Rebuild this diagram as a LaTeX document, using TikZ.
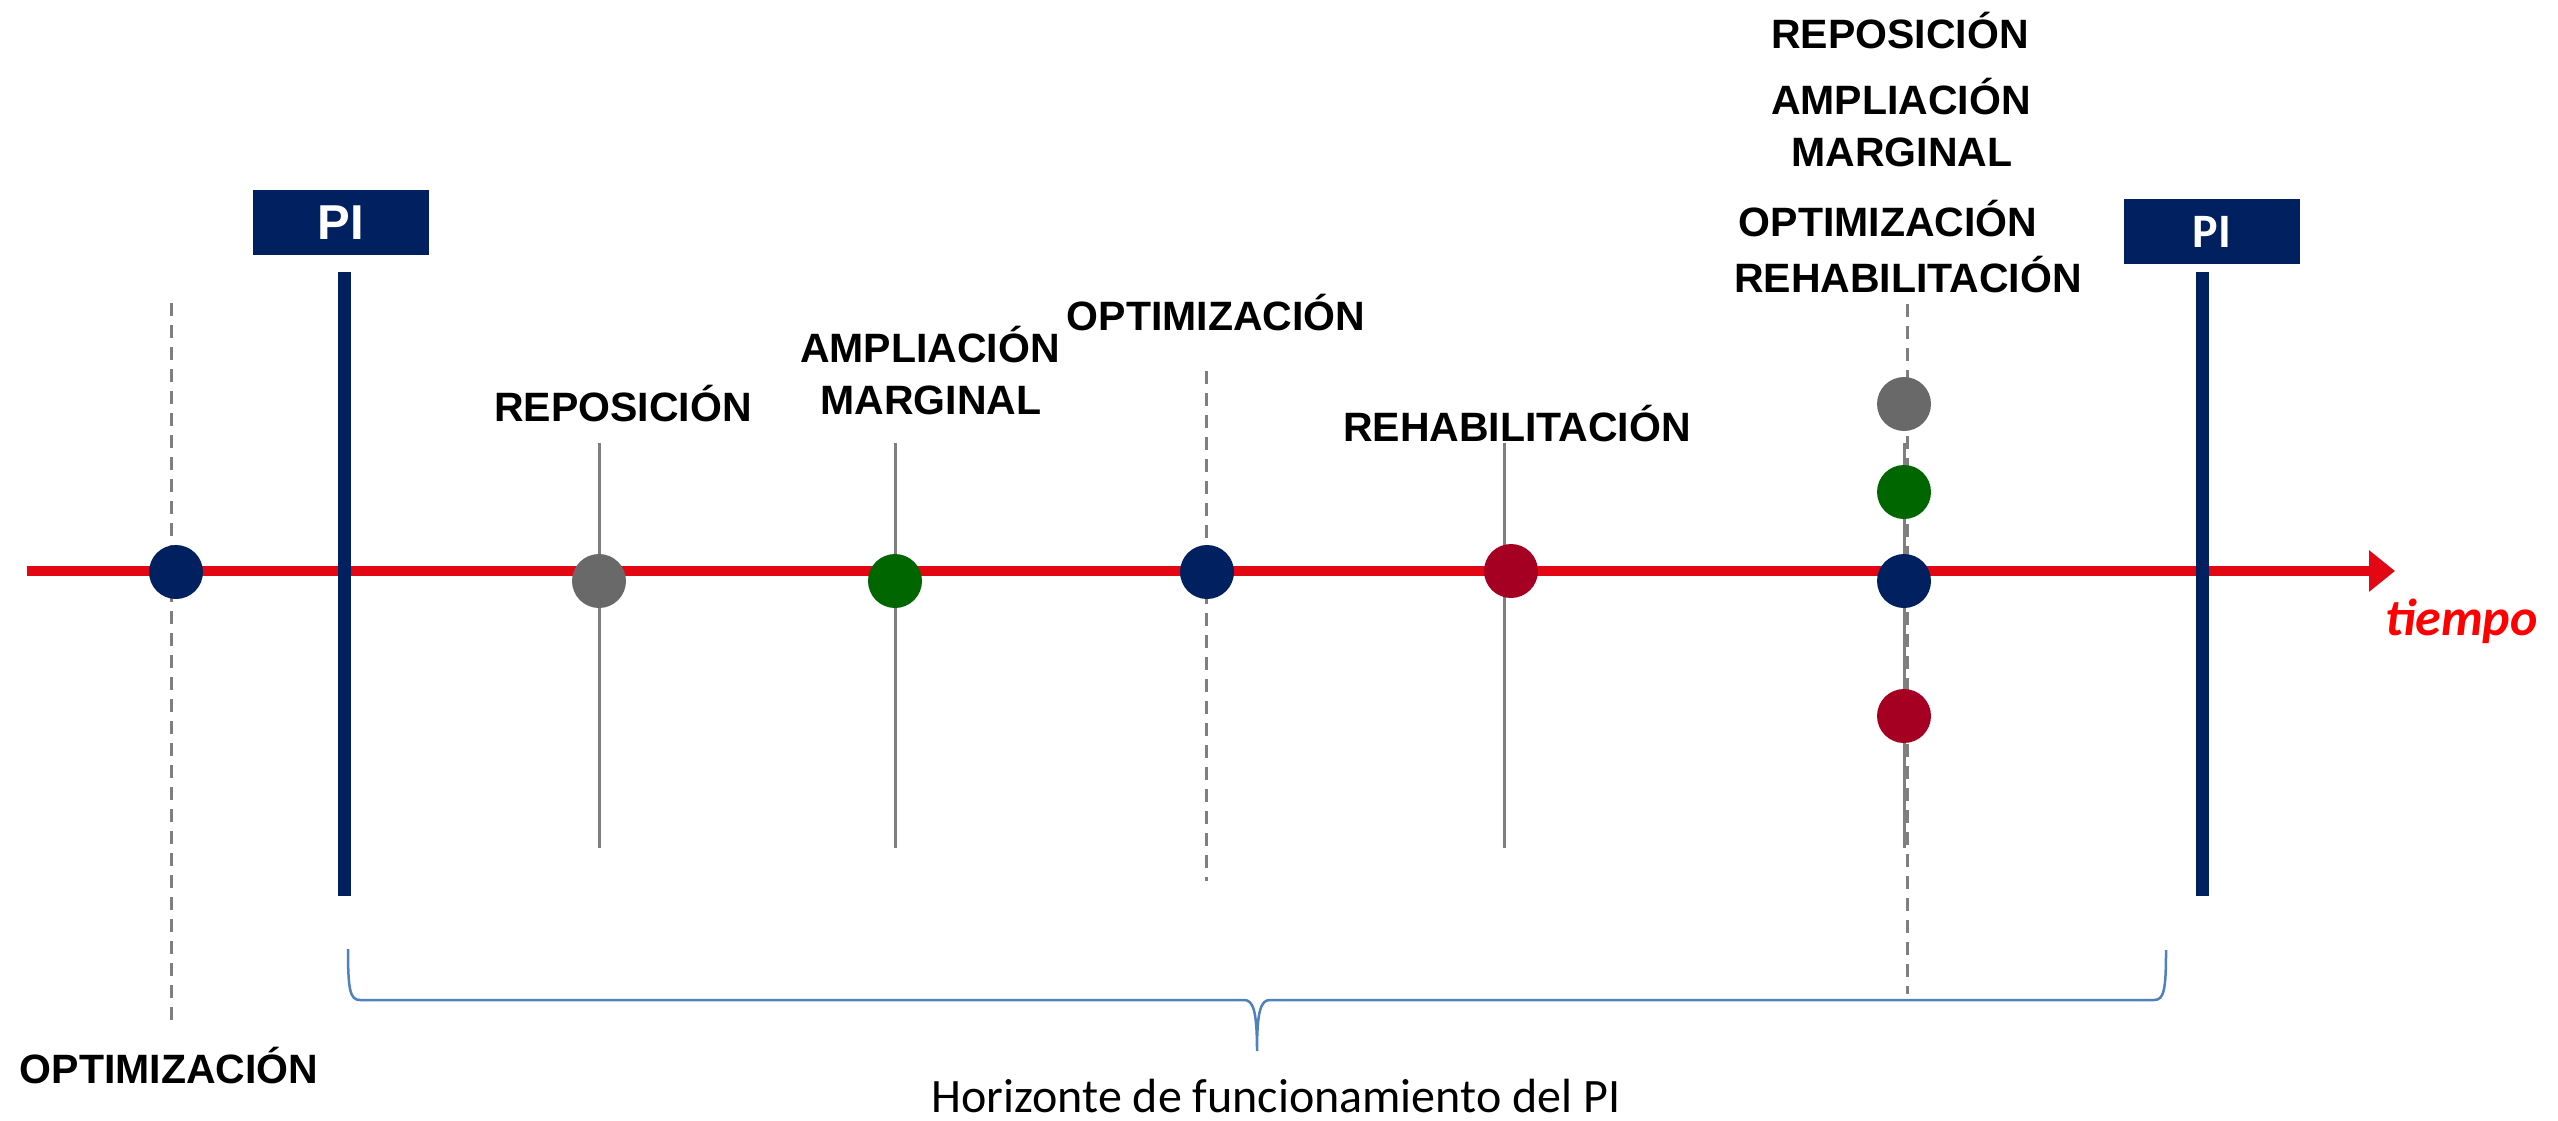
\documentclass[tikz,border=0pt]{standalone}
\usepackage{fontspec}
\setmainfont{Liberation Sans}
\newfontfamily\carl{Carlito}
\usetikzlibrary{arrows.meta}
\definecolor{navy}{HTML}{002060}
\definecolor{axisred}{HTML}{E30613}
\definecolor{dotred}{HTML}{A50021}
\definecolor{dotgreen}{HTML}{006600}
\definecolor{dotgrey}{HTML}{696969}
\definecolor{linegrey}{HTML}{7F7F7F}
\definecolor{braceblue}{HTML}{4F81BD}
\definecolor{timered}{HTML}{FF0000}
\begin{document}
\begin{tikzpicture}[x=1pt,y=-1pt,
  lbl/.style={inner sep=0pt, anchor=base, font=\fontsize{41}{49}\selectfont\bfseries},
  dot/.style={circle, inner sep=0pt, minimum size=54pt, draw=none},
  gline/.style={draw=linegrey, line width=3pt},
  dline/.style={draw=linegrey, line width=3pt, dash pattern=on 13pt off 9pt},
  pibar/.style={draw=navy, line width=13pt},
  pibox/.style={fill=navy, text=white, minimum width=176pt, minimum height=65pt, inner sep=0pt},
  axisline/.style={draw=axisred, line width=10pt, -{Triangle[length=26pt,width=40pt]}},
  brace/.style={draw=braceblue, line width=2.5pt}
]
\useasboundingbox (0,0) rectangle (2558,1121);

% axis
\coordinate (axs) at (27,571);
\coordinate (axe) at (2395,571);
\draw[axisline] (axs) -- (axe);

% vertical lines
\coordinate (v0t) at (171,303); \coordinate (v0b) at (171,1024);
\draw[dline] (v0t) -- (v0b);
\coordinate (v1t) at (599,443); \coordinate (v1b) at (599,848);
\draw[gline] (v1t) -- (v1b);
\coordinate (v2t) at (895,443); \coordinate (v2b) at (895,848);
\draw[gline] (v2t) -- (v2b);
\coordinate (v3t) at (1206,371); \coordinate (v3b) at (1206,881);
\draw[dline] (v3t) -- (v3b);
\coordinate (v4t) at (1504,443); \coordinate (v4b) at (1504,848);
\draw[gline] (v4t) -- (v4b);
\coordinate (v5t) at (1904,443); \coordinate (v5b) at (1904,848);
\draw[gline] (v5t) -- (v5b);
\coordinate (v6t) at (1907,304); \coordinate (v6b) at (1907,994);
\draw[dline] (v6t) -- (v6b);

% PI bars
\coordinate (p1t) at (344,272); \coordinate (p1b) at (344,896);
\draw[pibar] (p1t) -- (p1b);
\coordinate (p2t) at (2202,272); \coordinate (p2b) at (2202,896);
\draw[pibar] (p2t) -- (p2b);

% PI boxes
\node[pibox, font=\fontsize{49}{55}\selectfont\bfseries] (pi1) at (341,222.5) {PI};
\node[pibox, font=\carl\fontsize{48}{54}\selectfont\bfseries] (pi2) at (2212,231.5) {PI};

% dots
\node[dot, fill=navy] (d0) at (176,572) {};
\node[dot, fill=dotgrey] (d1) at (599,581) {};
\node[dot, fill=dotgreen] (d2) at (895,581) {};
\node[dot, fill=navy] (d3) at (1207,572) {};
\node[dot, fill=dotred] (d4) at (1511,571) {};
\node[dot, fill=dotgrey] (d5) at (1904,404) {};
\node[dot, fill=dotgreen] (d6) at (1904,492) {};
\node[dot, fill=navy] (d7) at (1904,581) {};
\node[dot, fill=dotred] (d8) at (1904,716) {};

% labels
\node[lbl] (rep1) at (623,421) {REPOSICIÓN};
\node[lbl] (amp1) at (930,362) {AMPLIACIÓN};
\node[lbl] (mar1) at (931,414) {MARGINAL};
\node[lbl] (opt1) at (1216,330) {OPTIMIZACIÓN};
\node[lbl] (reh1) at (1517,441) {REHABILITACIÓN};
\node[lbl] (rep2) at (1900,49) {REPOSICIÓN};
\node[lbl] (amp2) at (1901,115) {AMPLIACIÓN};
\node[lbl] (mar2) at (1902,166) {MARGINAL};
\node[lbl] (opt2) at (1888,236) {OPTIMIZACIÓN};
\node[lbl] (reh2) at (1908,292) {REHABILITACIÓN};
\node[lbl] (opt0) at (169,1083) {OPTIMIZACIÓN};

\node[inner sep=0pt, anchor=base west, text=timered, font=\carl\fontsize{52}{60}\selectfont\bfseries\itshape] (tiempo) at (2385,635) {tiempo};

% brace
\coordinate (bl) at (348,949);
\coordinate (bt) at (1257,1051);
\coordinate (br) at (2166,950);
\draw[brace] (bl) .. controls (348,990) and (350,1000) .. (360,1000) -- (1244,1000)
  .. controls (1253,1000) and (1257,1010) .. (bt)
  .. controls (1257,1010) and (1261,1000) .. (1270,1000) -- (2154,1000)
  .. controls (2164,1000) and (2166,990) .. (br);

\node[inner sep=0pt, anchor=base, font=\carl\fontsize{48}{56}\selectfont] (hor) at (1276,1112) {Horizonte de funcionamiento del PI};
\end{tikzpicture}
\end{document}
